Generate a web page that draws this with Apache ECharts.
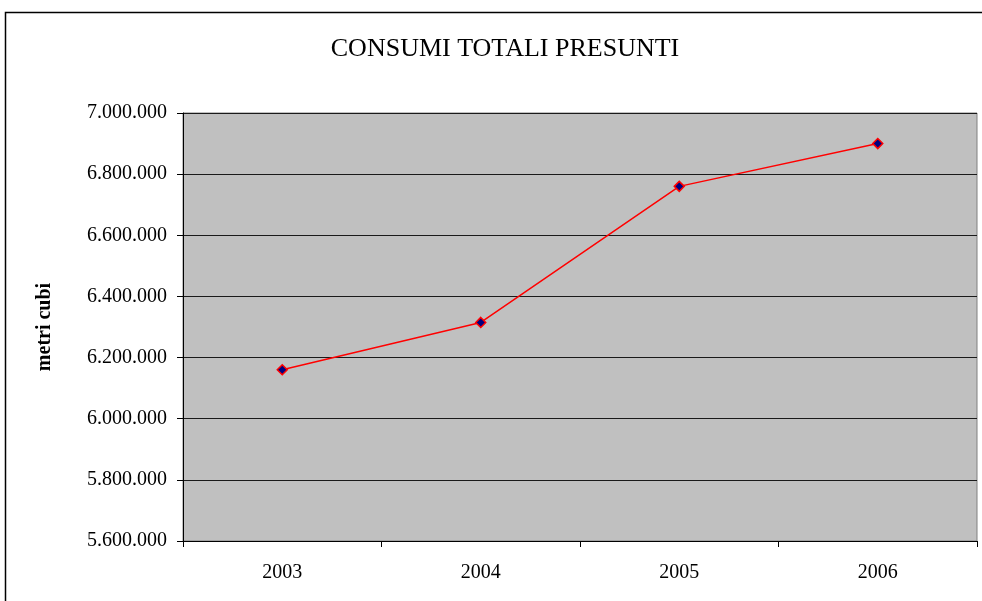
<!DOCTYPE html>
<html>
<head>
<meta charset="utf-8">
<script src="https://cdn.jsdelivr.net/npm/echarts@6/dist/echarts.min.js"></script>
<style>
html,body{margin:0;padding:0;background:#fff;}
#c{width:982px;height:601px;}
</style>
</head>
<body>
<div id="c"></div>
<script>
const categories = ['2003', '2004', '2005', '2006'];
const consumi = [6160000, 6315000, 6760000, 6900000];
const yMin = 5600000;
const yMax = 7000000;
const yStep = 200000;
const titleText = 'CONSUMI TOTALI PRESUNTI';
const yName = 'metri cubi';

function fmt(v) {
  return String(v).replace(/\B(?=(\d{3})+(?!\d))/g, '.');
}

const chart = echarts.init(document.getElementById('c'), null, {renderer: 'canvas'});
chart.setOption({
  animation: false,
  backgroundColor: '#ffffff',
  graphic: [{
    type: 'rect',
    shape: {x: 5.5, y: 12.5, width: 1000, height: 620},
    style: {fill: 'none', stroke: '#000', lineWidth: 1.5},
    silent: true,
    z: 0
  }],
  title: {
    text: titleText,
    left: 500,
    textAlign: 'center',
    top: 31,
    textStyle: {fontFamily: 'Liberation Serif', fontSize: 26, fontWeight: 'normal', color: '#000'}
  },
  grid: {
    left: 183, top: 113, right: 5, bottom: 60,
    show: true, backgroundColor: '#c0c0c0', borderColor: '#808080', borderWidth: 1
  },
  xAxis: {
    type: 'category',
    data: categories,
    boundaryGap: true,
    axisLine: {lineStyle: {color: '#000', width: 1}},
    axisTick: {show: true, length: 6, inside: false, lineStyle: {color: '#000'}},
    axisLabel: {fontFamily: 'Liberation Serif', fontSize: 20, color: '#000', margin: 22}
  },
  yAxis: {
    type: 'value',
    min: yMin, max: yMax, interval: yStep,
    name: yName,
    nameLocation: 'middle',
    nameGap: 128,
    nameRotate: 90,
    nameTextStyle: {fontFamily: 'Liberation Serif', fontSize: 20, fontWeight: 'bold', color: '#000'},
    axisLine: {show: true, lineStyle: {color: '#000', width: 1}},
    axisTick: {show: true, length: 6, inside: false, lineStyle: {color: '#000'}},
    axisLabel: {fontFamily: 'Liberation Serif', fontSize: 20, color: '#000', margin: 16, formatter: fmt},
    splitLine: {show: true, lineStyle: {color: '#1a1a1a', width: 1}}
  },
  series: [{
    type: 'line',
    data: consumi,
    symbol: 'diamond',
    symbolSize: 10,
    lineStyle: {color: '#ff0000', width: 1.5},
    itemStyle: {color: '#000080', borderColor: '#ff0000', borderWidth: 1.5}
  }]
});
</script>
</body>
</html>
